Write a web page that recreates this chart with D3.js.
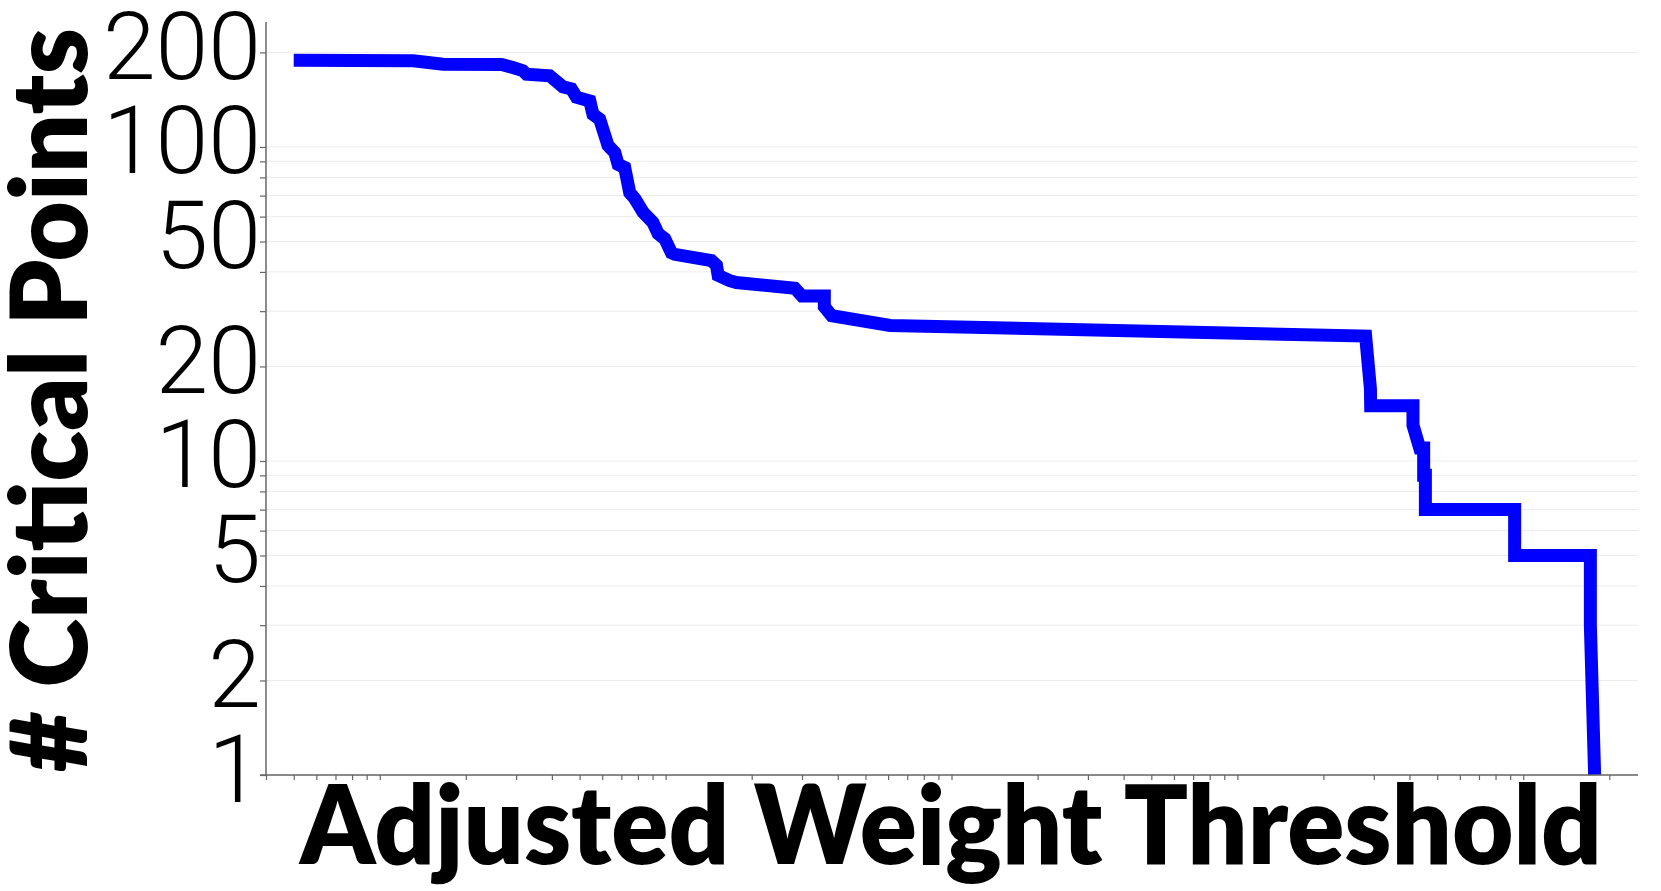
<!DOCTYPE html>
<html>
<head>
<meta charset="utf-8">
<script src="https://d3js.org/d3.v7.min.js"></script>
<style>
  body { margin: 0; background: #fff; }
  svg { display: block; }
</style>
</head>
<body>
<div id="main"></div>
<script>

//=============== DATA ===================
// adjusted weight threshold (x, log) -> number of critical points (y, log)
var thresholds = [5.0e-5, 1.31e-4, 1.665e-4, 2.666e-4, 2.92e-4, 3.164e-4, 3.26e-4, 3.93e-4,
  4.195e-4, 4.37e-4, 4.68e-4, 4.875e-4, 5.43e-4, 5.57e-4, 5.88e-4, 6.29e-4, 6.64e-4, 6.82e-4,
  7.19e-4, 7.49e-4, 7.80e-4, 8.34e-4, 9.03e-4, 9.41e-4, 9.93e-4, 1.048e-3, 1.076e-3, 1.446e-3,
  1.506e-3, 1.526e-3, 1.676e-3, 1.769e-3, 2.83e-3, 3.00e-3, 3.59e-3, 3.59e-3, 3.81e-3, 6.10e-3,
  0.281, 0.2827, 0.292, 0.2926, 0.4114, 0.4114, 0.4342, 0.4484, 0.4484, 0.4546, 0.4546,
  0.9331, 0.9331, 1.717, 1.717, 1.777];

var criticalPoints = [189, 188, 183.5, 183, 179, 175, 170.5, 168.5,
  160.5, 155.5, 153, 144, 140, 127, 122.5, 101, 96, 88,
  86, 71.5, 68.5, 62, 57.5, 53, 51, 46, 45.5, 43.5,
  42, 39, 37.5, 37, 35.5, 33.5, 33.5, 31, 29, 27,
  25, 23.5, 17, 15, 15, 13, 11, 11, 9, 9, 7,
  7, 5, 5, 3, 1];

var xDomain = [4e-5, 2.52],
    yDomain = [1, 250];

var yTickLabels = [1, 2, 5, 10, 20, 50, 100, 200];

var xTitle = "Adjusted Weight Threshold",
    yTitle = "# Critical Points";

//=============== LAYOUT ===================
var W = 1661, H = 891,
    plot = {left: 266, right: 1638, top: 22, bottom: 775};

var svg = d3.select("#main").append("svg")
    .attr("width", W)
    .attr("height", H);

var x = d3.scaleLog().domain(xDomain).range([plot.left, plot.right]);
var y = d3.scaleLog().domain(yDomain).range([plot.bottom, plot.top]);

var yTicks = y.ticks();
var xTicks = x.ticks();

// gridlines
svg.append("g")
    .attr("class", "grid")
  .selectAll("line")
    .data(yTicks)
    .enter()
    .append("line")
    .attr("x1", plot.left)
    .attr("x2", plot.right)
    .attr("y1", function(d){ return y(d); })
    .attr("y2", function(d){ return y(d); })
    .attr("stroke", "#ececec")
    .attr("stroke-width", 1);

// the line
var line = d3.line()
    .x(function(d){ return x(d[0]); })
    .y(function(d){ return y(d[1]); });

svg.append("path")
    .datum(d3.zip(thresholds, criticalPoints))
    .attr("d", line)
    .attr("fill", "none")
    .attr("stroke", "#0000ff")
    .attr("stroke-width", 13)
    .attr("stroke-linejoin", "miter")
    .attr("stroke-linecap", "butt");

// y axis
var yAxis = d3.axisLeft(y)
    .tickValues(yTicks)
    .tickSize(6)
    .tickSizeOuter(0)
    .tickFormat(function(d){ return yTickLabels.indexOf(d) >= 0 ? d : ""; });

var gy = svg.append("g")
    .attr("transform", "translate(" + plot.left + ",0)")
    .call(yAxis);

gy.select(".domain").attr("stroke", "#666").attr("stroke-width", 1.5)
    .attr("d", "M0," + plot.top + "V" + plot.bottom);
gy.selectAll(".tick line").attr("stroke", "#666").attr("stroke-width", 1.2);
gy.selectAll(".tick text")
    .filter(function(d){ return yTickLabels.indexOf(d) < 0; })
    .remove();
gy.selectAll(".tick text")
    .attr("x", -5)
    .attr("y", 26)
    .attr("dy", null)
    .attr("fill", "#000")
    .style("font-family", "Roboto, 'Noto Sans', sans-serif")
    .style("font-weight", 300)
    .style("font-size", "95px");

// x axis, minor ticks only
var xAxis = d3.axisBottom(x)
    .tickValues(xTicks)
    .tickSize(5)
    .tickSizeOuter(0)
    .tickFormat("");

var gx = svg.append("g")
    .attr("transform", "translate(0," + plot.bottom + ")")
    .call(xAxis);

gx.select(".domain").attr("stroke", "#666").attr("stroke-width", 1.5)
    .attr("d", "M" + (plot.left - 6) + ",0H" + plot.right);
gx.selectAll(".tick line").attr("stroke", "#666").attr("stroke-width", 1.2);
gx.selectAll(".tick text").remove();

// titles
svg.append("text")
    .attr("x", 300)
    .attr("y", 864)
    .attr("textLength", 1302)
    .attr("lengthAdjust", "spacingAndGlyphs")
    .style("font-family", "Lato, 'Open Sans', sans-serif")
    .style("font-weight", 800)
    .style("font-size", "110px")
    .attr("fill", "#000")
    .text(xTitle);

svg.append("text")
    .attr("transform", "translate(87,400) rotate(-90)")
    .attr("text-anchor", "middle")
    .attr("textLength", 744)
    .attr("lengthAdjust", "spacingAndGlyphs")
    .style("font-family", "Lato, 'Open Sans', sans-serif")
    .style("font-weight", 800)
    .style("font-size", "107px")
    .attr("fill", "#000")
    .text(yTitle);

</script>
</body>
</html>
